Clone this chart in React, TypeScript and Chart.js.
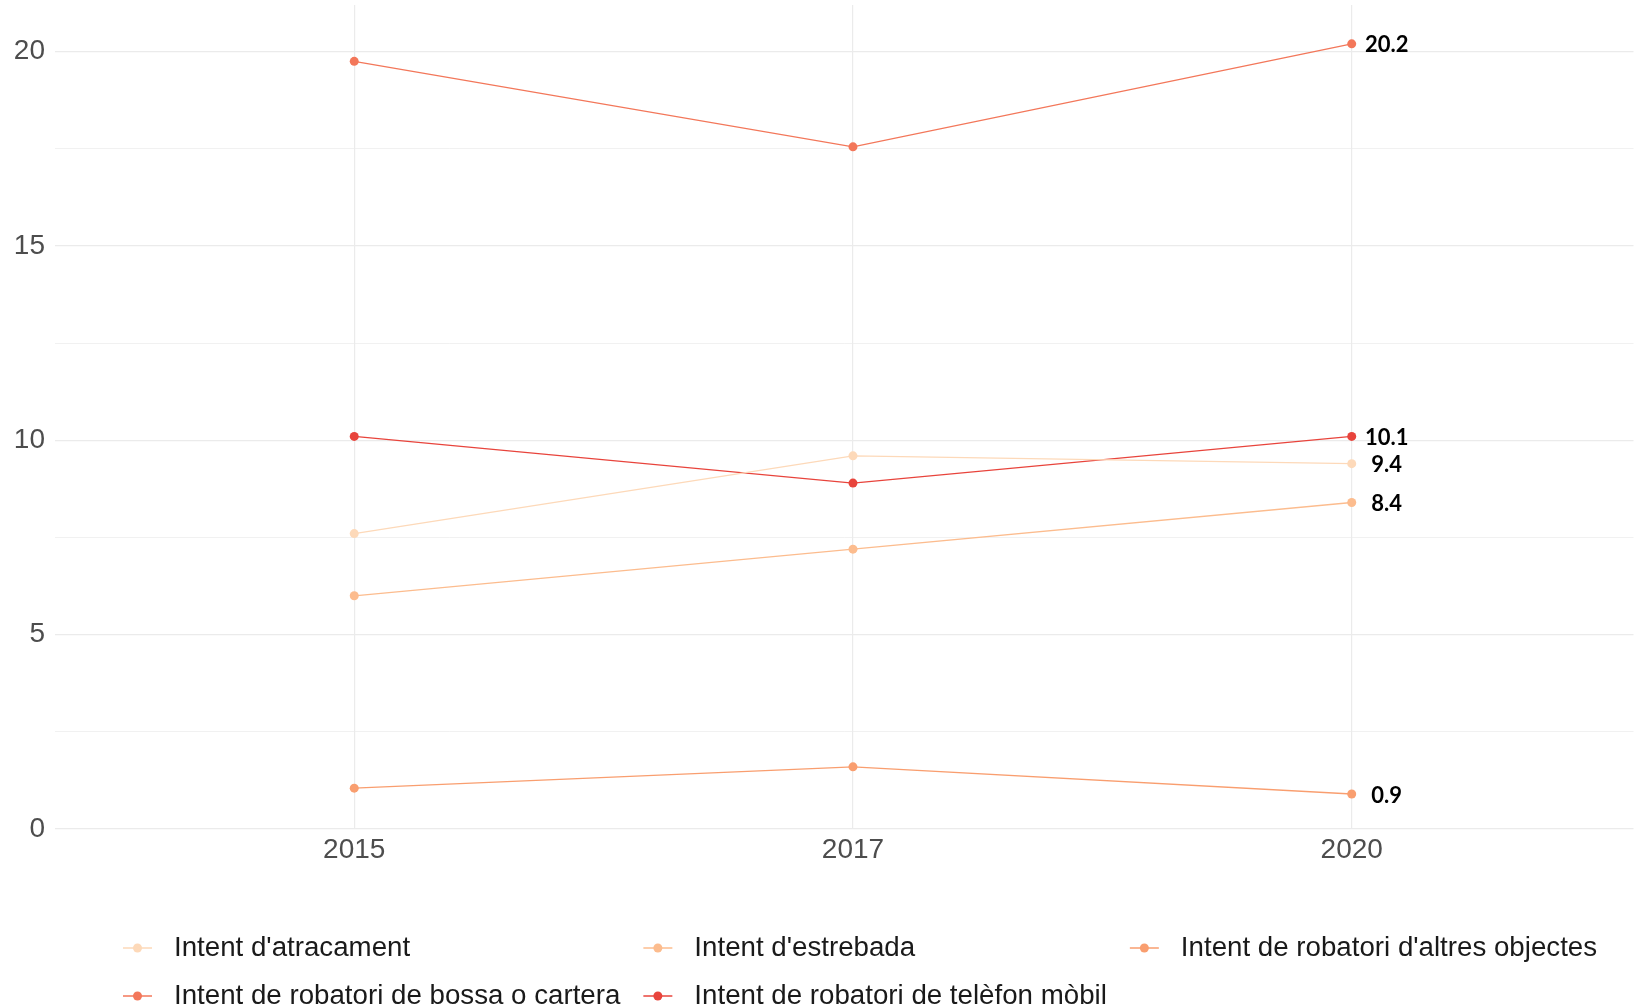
import React, { useEffect, useRef } from "react";
import { Chart, registerables } from "chart.js";

Chart.register(...registerables);

const years = ["2015", "2017", "2020"];
const seriesNames = [
  "Intent d'atracament",
  "Intent d'estrebada",
  "Intent de robatori d'altres objectes",
  "Intent de robatori de bossa o cartera",
  "Intent de robatori de telèfon mòbil",
];
const atracament = [7.6, 9.6, 9.4];
const estrebada = [6.0, 7.2, 8.4];
const altresObjectes = [1.05, 1.6, 0.9];
const bossaCartera = [19.75, 17.55, 20.2];
const telefonMobil = [10.1, 8.9, 10.1];
const seriesColors = ["#fdd9b9", "#fcbc8e", "#f99e6f", "#f3775a", "#e8443c"];
const yTicks = [0, 2.5, 5, 7.5, 10, 12.5, 15, 17.5, 20];

const allSeries = [atracament, estrebada, altresObjectes, bossaCartera, telefonMobil];

const labelPlugin = {
  id: "endLabels",
  afterDatasetsDraw(chart: any) {
    const ctx = chart.ctx;
    ctx.save();
    ctx.font = "bold 22px Lato, 'Liberation Sans', sans-serif";
    ctx.fillStyle = "#000";
    ctx.textAlign = "center";
    ctx.textBaseline = "middle";
    chart.data.datasets.forEach((ds: any, i: number) => {
      const meta = chart.getDatasetMeta(i);
      const last = meta.data[meta.data.length - 1];
      const v = ds.data[ds.data.length - 1].y;
      ctx.fillText(v.toFixed(1), last.x + 35, last.y + 1.5);
    });
    ctx.restore();
  },
};

const legendPlugin = {
  id: "customLegend",
  afterDraw(chart: any) {
    const ctx = chart.ctx;
    ctx.save();
    ctx.font = "27.7px 'Liberation Sans', Arial, sans-serif";
    ctx.textBaseline = "middle";
    const cols = 3;
    const rowsY = [948, 996];
    const markerLen = 29;
    const textOffset = 51;
    const gap = 23;
    const colWidths: number[] = [];
    seriesNames.forEach((n, i) => {
      const c = i % cols;
      colWidths[c] = Math.max(colWidths[c] || 0, ctx.measureText(n).width);
    });
    const colX: number[] = [];
    let x = 123;
    for (let c = 0; c < cols; c++) {
      colX.push(x);
      x = x + textOffset + colWidths[c] + gap;
    }
    seriesNames.forEach((n, i) => {
      const c = i % cols;
      const r = Math.floor(i / cols);
      const mx = colX[c];
      const my = rowsY[r];
      ctx.strokeStyle = seriesColors[i];
      ctx.lineWidth = 1.5;
      ctx.beginPath();
      ctx.moveTo(mx, my);
      ctx.lineTo(mx + markerLen, my);
      ctx.stroke();
      ctx.fillStyle = seriesColors[i];
      ctx.beginPath();
      ctx.arc(mx + markerLen / 2, my, 4.5, 0, Math.PI * 2);
      ctx.fill();
      ctx.fillStyle = "#1a1a1a";
      ctx.fillText(n, mx + textOffset, my);
    });
    ctx.restore();
  },
};

export default function App() {
  const ref = useRef<HTMLCanvasElement>(null);
  useEffect(() => {
    document.body.style.margin = "0";
    const datasets = allSeries.map((s, i) => ({
      label: seriesNames[i],
      data: s.map((v, j) => ({ x: j, y: v })),
      borderColor: seriesColors[i],
      backgroundColor: seriesColors[i],
      borderWidth: 1.3,
      pointRadius: 4.5,
      pointHoverRadius: 4.5,
      pointBorderWidth: 0,
      tension: 0,
    }));
    const chart = new Chart(ref.current!, {
      type: "line",
      data: { datasets },
      options: {
        animation: false,
        responsive: false,
        maintainAspectRatio: false,
        layout: { padding: { top: 5, right: 0, left: 0, bottom: 0 } },
        plugins: { legend: { display: false }, tooltip: { enabled: false } },
        scales: {
          x: {
            type: "linear",
            min: -0.6,
            max: 2.565,
            afterBuildTicks: (scale: any) => {
              scale.ticks = years.map((_, i) => ({ value: i }));
            },
            afterFit: (scale: any) => {
              scale.height = 178;
              scale.paddingLeft = 0;
              scale.paddingRight = 0;
            },
            ticks: {
              callback: (v: any) => years[v as number] ?? "",
              color: "#4d4d4d",
              font: { family: "'Liberation Sans', Arial, sans-serif", size: 28 },
              padding: 4,
              maxRotation: 0,
              autoSkip: false,
            },
            grid: { color: "#ebebeb", lineWidth: 1.2, drawTicks: false },
            border: { display: false },
          },
          y: {
            min: 0,
            max: 21.2,
            afterBuildTicks: (scale: any) => {
              scale.ticks = yTicks.map((v) => ({ value: v }));
            },
            afterFit: (scale: any) => {
              scale.width = 55;
              scale.paddingTop = 0;
              scale.paddingBottom = 0;
            },
            ticks: {
              callback: (v: any) => ((v as number) % 5 === 0 ? String(v) : ""),
              color: "#4d4d4d",
              font: { family: "'Liberation Sans', Arial, sans-serif", size: 28 },
              padding: 10,
            },
            grid: {
              color: "#ebebeb",
              lineWidth: (c: any) => (c.tick && c.tick.value % 5 === 0 ? 1.2 : 0.7),
              drawTicks: false,
            },
            border: { display: false },
          },
        },
      },
      plugins: [labelPlugin, legendPlugin],
    });
    return () => chart.destroy();
  }, []);
  return <canvas ref={ref} width={1638} height={1007} style={{ display: "block" }} />;
}
